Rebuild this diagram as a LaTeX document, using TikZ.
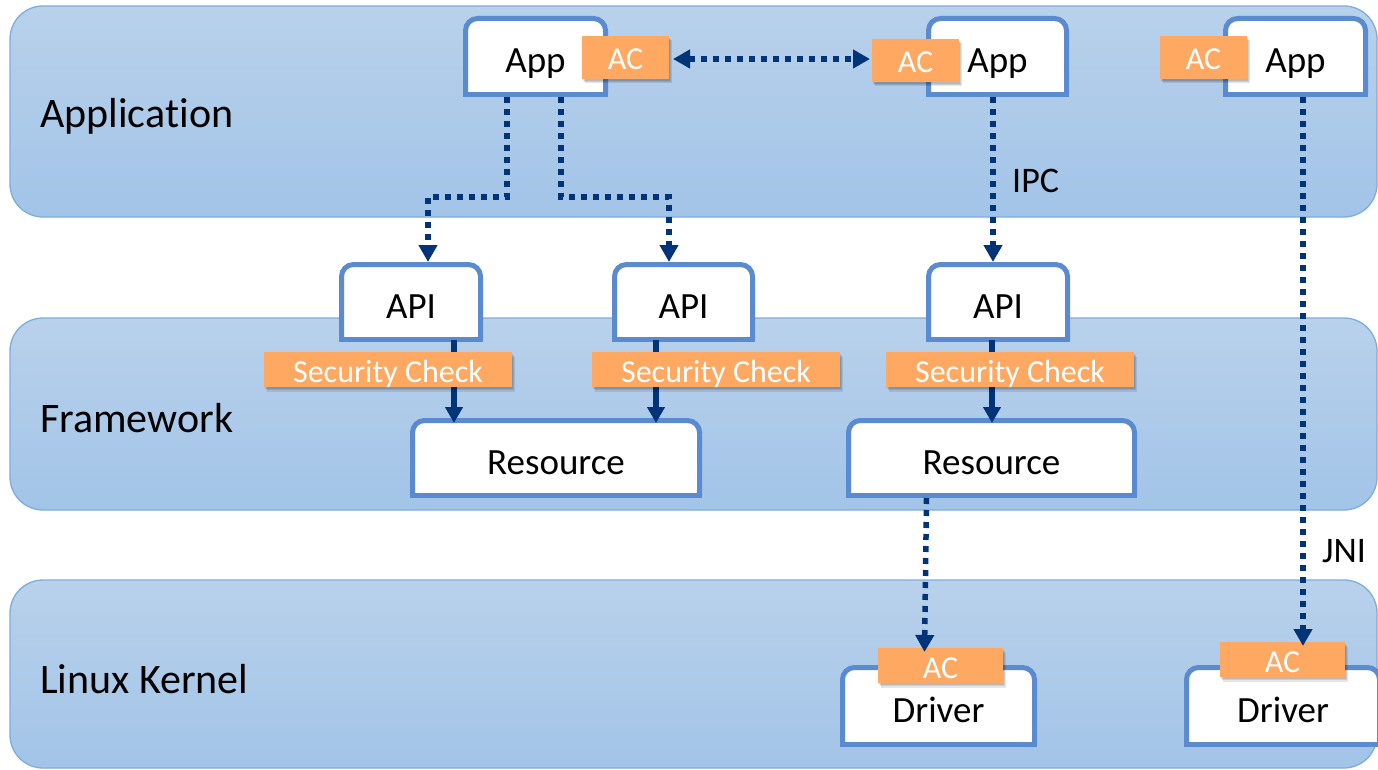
\documentclass[tikz,border=0pt]{standalone}
\usepackage{fontspec}
\setmainfont{Carlito}[Ligatures={NoCommon,NoRequired,NoContextual},Contextuals=NoAlternate]
\usetikzlibrary{arrows.meta}

\definecolor{bandtop}{HTML}{B9D1EB}
\definecolor{bandbot}{HTML}{A2C4E8}
\definecolor{bandline}{HTML}{7CADDD}
\definecolor{boxblue}{HTML}{5A8AD0}
\definecolor{navy}{HTML}{003478}
\definecolor{tagorange}{HTML}{FFA862}

\pgfdeclarelayer{bands}
\pgfdeclarelayer{frames}
\pgfdeclarelayer{links}
\pgfsetlayers{bands,frames,links,main}

% white box with rounded top corners and a square bottom edge
\newcommand{\tabframe}[1]{%
  \path[fill=white, draw=boxblue, line width=5pt, rounded corners=12pt]
    (#1.south west) |- (#1.north) -| (#1.south east);
  \draw[boxblue, line width=5pt, line cap=rect] (#1.south west) -- (#1.south east);}

\begin{document}
\begin{tikzpicture}[x=1pt, y=-1pt,
  tab/.style={inner sep=0pt, outer sep=0pt, font=\fontsize{37}{40}\selectfont,
    text height=33pt, text depth=0pt},
  softshadow/.style={
    preaction={fill=black, fill opacity=0.10, transform canvas={xshift=1pt,yshift=-2pt}},
    preaction={fill=black, fill opacity=0.10, transform canvas={xshift=2pt,yshift=-3pt}},
    preaction={fill=black, fill opacity=0.10, transform canvas={xshift=3pt,yshift=-4.5pt}}},
  tag/.style={softshadow, fill=tagorange, text=white, inner sep=0pt, outer sep=0pt,
    font=\fontsize{32}{36}\selectfont, text height=25pt, text depth=0pt},
  layername/.style={font=\fontsize{42}{48}\selectfont, anchor=base west, inner sep=0pt},
  note/.style={font=\fontsize{36}{40}\selectfont, anchor=base west, inner sep=0pt},
  band/.style={draw=bandline, line width=1.3pt, top color=bandtop, bottom color=bandbot,
    rounded corners=33pt},
  dotlink/.style={navy, line width=5.5pt, dash pattern=on 6pt off 6pt,
    -{Triangle[length=17pt,width=18pt]}},
  dotboth/.style={dotlink, {Triangle[length=17pt,width=18pt]}-{Triangle[length=17pt,width=18pt]}},
  solidlink/.style={navy, line width=6pt, -{Triangle[length=16pt,width=17pt]}}]

\useasboundingbox (0,0) rectangle (1378,770);

% layer bands
\begin{pgfonlayer}{bands}
  \path[band] (10,6) rectangle (1377,217);
  \path[band] (10,318) rectangle (1377,510);
  \path[band] (10,580) rectangle (1377,768);
\end{pgfonlayer}

\node[layername] (lapp) at (40,128) {Applica\kern0pt tion};
\node[layername] (lfw)  at (40,432) {Framework};
\node[layername] (lker) at (40,693) {Linux Kernel};

% white boxes
\node[tab, minimum width=140pt, minimum height=76pt] (App1) at (535.5,56.5) {App};
\node[tab, minimum width=138pt, minimum height=76pt] (App2) at (997.5,56.5) {App};
\node[tab, minimum width=140pt, minimum height=76pt] (App3) at (1295.5,56.5) {App};
\node[tab, minimum width=139pt, minimum height=75pt] (API1) at (411,302) {API};
\node[tab, minimum width=138pt, minimum height=75pt] (API2) at (683.5,302) {API};
\node[tab, minimum width=139pt, minimum height=75pt] (API3) at (998,302) {API};
\node[tab, minimum width=287pt, minimum height=75pt] (Res1) at (556,458) {Resource};
\node[tab, minimum width=286pt, minimum height=75pt] (Res2) at (991.5,458) {Resource};
\node[tab, minimum width=192pt, minimum height=77pt] (Drv1) at (938.5,706) {Driver};
\node[tab, minimum width=193pt, minimum height=77pt] (Drv2) at (1283,706) {Driver};

\begin{pgfonlayer}{frames}
  \tabframe{App1}\tabframe{App2}\tabframe{App3}
  \tabframe{API1}\tabframe{API2}\tabframe{API3}
  \tabframe{Res1}\tabframe{Res2}
  \tabframe{Drv1}\tabframe{Drv2}
\end{pgfonlayer}

% calls through the security checks
\begin{pgfonlayer}{links}
  \draw[solidlink] ([xshift=43pt]API1.south) -- ([xshift=-102pt,yshift=-2.5pt]Res1.north);
  \draw[solidlink] ([xshift=-27.5pt]API2.south) -- ([xshift=100pt,yshift=-2.5pt]Res1.north);
  \draw[solidlink] ([xshift=-6pt]API3.south) -- ([xshift=0.5pt,yshift=-2.5pt]Res2.north);
\end{pgfonlayer}

% orange access-control tags
\node[tag, minimum width=87pt, minimum height=43pt] (AC1) at (625.5,57.5) {AC};
\node[tag, minimum width=87pt, minimum height=43pt] (AC2) at (915.5,60.5) {AC};
\node[tag, minimum width=87pt, minimum height=43pt] (AC3) at (1203.5,57.5) {AC};
\node[tag, minimum width=248pt, minimum height=35pt] (SC1) at (388,369.5) {Security Check};
\node[tag, minimum width=248pt, minimum height=35pt] (SC2) at (716,369.5) {Security Check};
\node[tag, minimum width=248pt, minimum height=35pt] (SC3) at (1010,369.5) {Security Check};
\node[tag, minimum width=125pt, minimum height=35pt] (AC4) at (940.5,665.5) {AC};
\node[tag, minimum width=125pt, minimum height=35pt] (AC5) at (1282.5,659.5) {AC};

% dotted calls
\coordinate (acl) at ([xshift=4pt,yshift=-1.5pt]AC1.east);
\coordinate (acr) at ([xshift=-2pt]AC2.west);
\draw[dotboth] (acl) -- (acl -| acr);

\draw[dotlink] ([xshift=-28.5pt,yshift=-2.5pt]App1.south) -- ++(0,100)
  -| ([xshift=17pt,yshift=2.5pt]API1.north);
\draw[dotlink] ([xshift=25.5pt,yshift=-2.5pt]App1.south) -- ++(0,100)
  -| ([xshift=-14.5pt,yshift=2.5pt]API2.north);
\draw[dotlink] ([xshift=-4.5pt,yshift=-2.5pt]App2.south) -- ([xshift=-5pt,yshift=2.5pt]API3.north);
\draw[dotlink] ([xshift=7.5pt,yshift=-2.5pt]App3.south) -- ([xshift=20.5pt,yshift=-4pt]AC5.north);
\draw[dotlink] ([xshift=-65pt,yshift=-2.5pt]Res2.south) -- ([xshift=-16pt,yshift=-4pt]AC4.north);

\node[note] (ipc) at (1012,193) {IPC};
\node[note] (jni) at (1322,562) {JNI};

\end{tikzpicture}
\end{document}
